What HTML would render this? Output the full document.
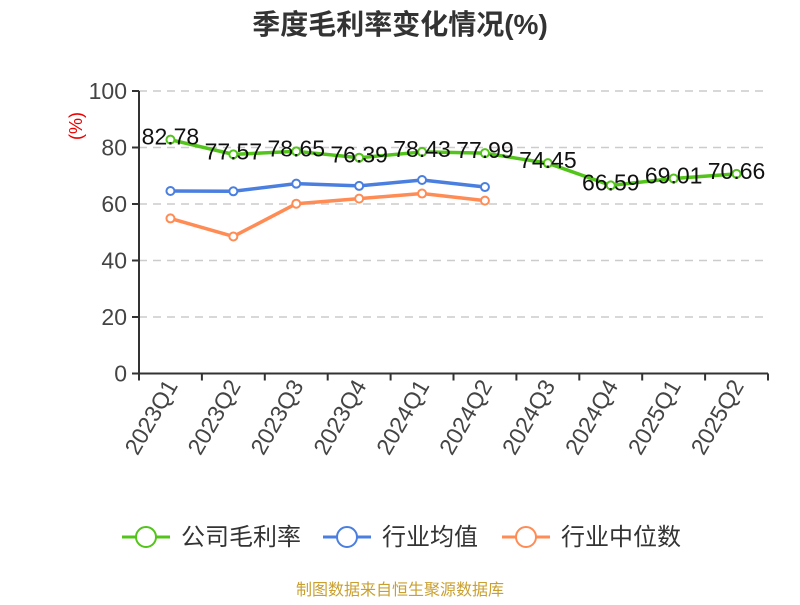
<!DOCTYPE html>
<html><head><meta charset="utf-8"><style>
body{margin:0;background:#fff}
svg text{font-family:"Liberation Sans","Noto Sans CJK SC",sans-serif}
</style></head><body>
<svg id="c" width="800" height="600">
<text x="400" y="34" text-anchor="middle" font-size="28" font-weight="bold" fill="#333">季度毛利率变化情况(%)</text>
<text transform="translate(82,126) rotate(-90)" text-anchor="middle" font-size="18" fill="#e00">(%)</text>
<g id="grid"></g><g id="axes"></g><g id="series"></g>
<g>
<g><line x1="122" y1="537" x2="170" y2="537" stroke="#52c41a" stroke-width="3"/><circle cx="146" cy="537" r="10" fill="#fff" stroke="#52c41a" stroke-width="2"/><text x="181" y="545" font-size="24" fill="#333">公司毛利率</text></g>
<g><line x1="323" y1="537" x2="371" y2="537" stroke="#4a7fe0" stroke-width="3"/><circle cx="347" cy="537" r="10" fill="#fff" stroke="#4a7fe0" stroke-width="2"/><text x="382" y="545" font-size="24" fill="#333">行业均值</text></g>
<g><line x1="502" y1="537" x2="550" y2="537" stroke="#ff8c55" stroke-width="3"/><circle cx="526" cy="537" r="10" fill="#fff" stroke="#ff8c55" stroke-width="2"/><text x="561" y="545" font-size="24" fill="#333">行业中位数</text></g>
</g>
<text x="400" y="595" text-anchor="middle" font-size="16" fill="#c9a030">制图数据来自恒生聚源数据库</text>
</svg>
<script>
const categories=["2023Q1","2023Q2","2023Q3","2023Q4","2024Q1","2024Q2","2024Q3","2024Q4","2025Q1","2025Q2"];
const grossMargin=[82.78,77.57,78.65,76.39,78.43,77.99,74.45,66.59,69.01,70.66];
const industryAvg=[64.6,64.5,67.2,66.4,68.5,66.0];
const industryMedian=[54.9,48.5,60.1,61.9,63.7,61.2];
const yTicks=[0,20,40,60,80,100];
const NS="http://www.w3.org/2000/svg";
const X0=139,X1=768,Y0=373.5,Y1=91;
const bw=(X1-X0)/categories.length;
const xs=i=>X0+bw*(i+0.5);
const ys=v=>Y0-(v/100)*(Y0-Y1);
function mk(t,a,p){const e=document.createElementNS(NS,t);for(const k in a)e.setAttribute(k,a[k]);p.appendChild(e);return e;}
const grid=document.getElementById('grid'),axes=document.getElementById('axes'),ser=document.getElementById('series');
yTicks.forEach(v=>{
 if(v>0){const g=mk('line',{x1:X0,x2:X1,y1:ys(v),y2:ys(v),stroke:'#ccc','stroke-dasharray':'8,6','stroke-width':1.5},grid);
 
 }
 const t=mk('line',{x1:X0-7,x2:X0,y1:ys(v),y2:ys(v),stroke:'#333','stroke-width':2},axes);
 
 
 const l=mk('text',{x:X0-12,y:ys(v)+8,'text-anchor':'end','font-size':23,fill:'#444'},axes);l.textContent=v;
 
 
});
const ya=mk('line',{x1:X0,x2:X0,y1:Y1,y2:Y0,stroke:'#333','stroke-width':2},axes);


const xa=mk('line',{x1:X0,x2:X1,y1:Y0,y2:Y0,stroke:'#333','stroke-width':2},axes);


for(let i=0;i<=categories.length;i++){const t=mk('line',{x1:X0+bw*i,x2:X0+bw*i,y1:Y0,y2:Y0+7,stroke:'#333','stroke-width':2},axes);
 
 }
categories.forEach((c,i)=>{const t=mk('text',{transform:`translate(${xs(i)+8},${Y0+12}) rotate(-60)`,'text-anchor':'end','font-size':23,fill:'#444'},axes);t.textContent=c;
 
 });
function series(vals,color,name,labels){
 const g=mk('g',{},ser);
 
 
 const p=mk('polyline',{points:vals.map((v,i)=>xs(i)+','+ys(v)).join(' '),fill:'none',stroke:color,'stroke-width':3.5,'stroke-linejoin':'round'},g);
 
 
 vals.forEach((v,i)=>{const c=mk('circle',{cx:xs(i),cy:ys(v),r:4,fill:'#fff',stroke:color,'stroke-width':2},g);
  
  
  if(labels){const t=mk('text',{x:xs(i),y:ys(v)+5,'text-anchor':'middle','font-size':23,fill:'#111'},g);t.textContent=v.toFixed(2);
  
  }});
}
series(industryMedian,'#ff8c55','industry-median-series',false);
series(industryAvg,'#4a7fe0','industry-avg-series',false);
series(grossMargin,'#52c41a','gross-margin-series',true);
</script>
</body></html>
